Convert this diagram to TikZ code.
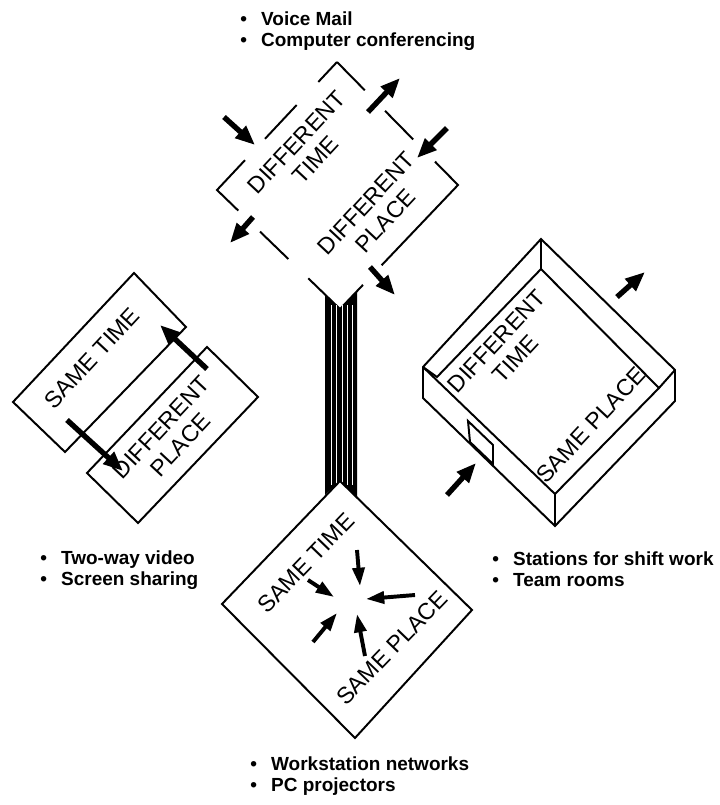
\documentclass[tikz,border=0pt]{standalone}
\usepackage{fontspec}
\setmainfont{Liberation Sans}
\usetikzlibrary{arrows.meta,calc}

\tikzset{
  frame/.style={line width=1.4pt},
  fatarrow/.style={line width=3.8pt, -{Triangle[length=14pt,width=11pt]}},
  smallarrow/.style={line width=2.8pt, -{Triangle[length=13pt,width=8.5pt]}},
  caption/.style={font=\fontsize{16.5}{18.5}\selectfont, align=center, inner sep=0pt},
  bullets/.style={font=\fontsize{13.5}{15.6}\selectfont\bfseries, align=left, inner sep=0pt},
}
\newcommand{\bul}{\textbullet\hspace{0.75em}}

\begin{document}
\begin{tikzpicture}[x=0.025cm, y=-0.025cm]
  \fill[white] (0,0) rectangle (720,805);
  \useasboundingbox (0,0) rectangle (720,805);

  % Different time, different place
  \coordinate (DT) at (337,62);
  \coordinate (DL) at (217,190);
  \coordinate (DB) at (340,309);
  \coordinate (DR) at (458,185);

  \draw[frame] (DT) -- ($(DT)!.156!(DL)$);
  \draw[frame] ($(DT)!.336!(DL)$) -- ($(DT)!.60!(DL)$);
  \draw[frame] ($(DT)!.767!(DL)$) -- (DL) -- ($(DL)!.173!(DB)$);
  \draw[frame] ($(DL)!.35!(DB)$) -- ($(DL)!.58!(DB)$);
  \draw[frame] ($(DL)!.742!(DB)$) -- (DB) -- ($(DB)!.195!(DR)$);
  \draw[frame] ($(DB)!.353!(DR)$) -- (DR) -- ($(DR)!.19!(DT)$);
  \draw[frame] ($(DR)!.37!(DT)$) -- ($(DR)!.603!(DT)$);
  \draw[frame] ($(DR)!.77!(DT)$) -- (DT);

  \node[caption, rotate=47] (dtime) at (306,151) {DIFFERENT\\TIME};
  \node[caption, rotate=47] (dplace) at (376,212) {DIFFERENT\\PLACE};

  \draw[fatarrow] (224,117) -- (255,145);
  \draw[fatarrow] (368,112) -- (400,78);
  \draw[fatarrow] (447,128) -- (417,158);
  \draw[fatarrow] (253,217) -- (230,243);
  \draw[fatarrow] (370,267) -- (395,295);

  % stalk
  \fill[black] (325,294) -- (DB) -- (357,292) -- (357,497) -- (340,481) -- (325,495) -- cycle;
  \foreach \x in {331,336,342,347,352}
    \draw[white, line width=0.4pt] (\x,305) -- (\x,485);

  % Same time, same place
  \coordinate (BT) at (340,481);
  \coordinate (BL) at (222,604);
  \coordinate (BB) at (355,738);
  \coordinate (BR) at (472,610);
  \draw[frame] (BT) -- (BL) -- (BB) -- (BR) -- cycle;

  \node[caption, rotate=46] (stime) at (306,563) {SAME TIME};
  \node[caption, rotate=46] (splace) at (392,648) {SAME PLACE};

  \draw[smallarrow] (357,550) -- (360,586);
  \draw[smallarrow] (308,580) -- (334,597);
  \draw[smallarrow] (415,595) -- (366,599);
  \draw[smallarrow] (313,642) -- (337,613);
  \draw[smallarrow] (365,656) -- (357,614);

  % Same time, different place
  \draw[frame] (134,273) -- (186,327) -- (65,452) -- (13,402) -- cycle;
  \draw[frame] (207,347) -- (258,397) -- (138,523) -- (87,473) -- cycle;
  \node[caption, rotate=47] (ltime) at (92,358) {SAME TIME};
  \node[caption, rotate=47] (lplace) at (171,436) {DIFFERENT\\PLACE};
  \draw[fatarrow] (207,369) -- (160,325);
  \draw[fatarrow] (67,420) -- (123,471);

  % Different time, same place (room)
  \coordinate (RT) at (541,239);
  \coordinate (RL) at (423,367);
  \coordinate (RF) at (555,494);
  \coordinate (RR) at (675,370);
  \coordinate (IT) at (541,269);
  \coordinate (IL) at (437,377);
  \coordinate (IR) at (659,388);
  \coordinate (BLo) at (423,398);
  \coordinate (BFo) at (555,526);
  \coordinate (BRo) at (675,401);

  \draw[frame] (RL) -- (RT) -- (RR) -- (BRo) -- (BFo) -- (BLo) -- cycle;
  \draw[frame] (RL) -- (RF) -- (BFo);
  \draw[frame] (RT) -- (IT);
  \draw[frame] (RL) -- (IL) -- (IT) -- (IR) -- (RR);
  \draw[frame] (IR) -- (RF);
  \draw[frame, fill=white] (468,421) -- (493,445) -- (493,464) -- (470,442) -- cycle;

  \node[caption, rotate=47] (rtime) at (506,350) {DIFFERENT\\TIME};
  \node[caption, rotate=47] (rplace) at (591,425) {SAME PLACE};

  \draw[fatarrow] (447,495) -- (476,463);
  \draw[fatarrow] (617,297) -- (645,272);

  % examples
  \node[bullets, anchor=north west] (ltop) at (240,11) {\bul Voice Mail\\\bul Computer conferencing};
  \node[bullets, anchor=north west] (lleft) at (40,550) {\bul Two-way video\\\bul Screen sharing};
  \node[bullets, anchor=north west] (lright) at (492,551) {\bul Stations for shift work\\\bul Team rooms};
  \node[bullets, anchor=north west] (lbottom) at (250,756) {\bul Workstation networks\\\bul PC projectors};
\end{tikzpicture}
\end{document}
